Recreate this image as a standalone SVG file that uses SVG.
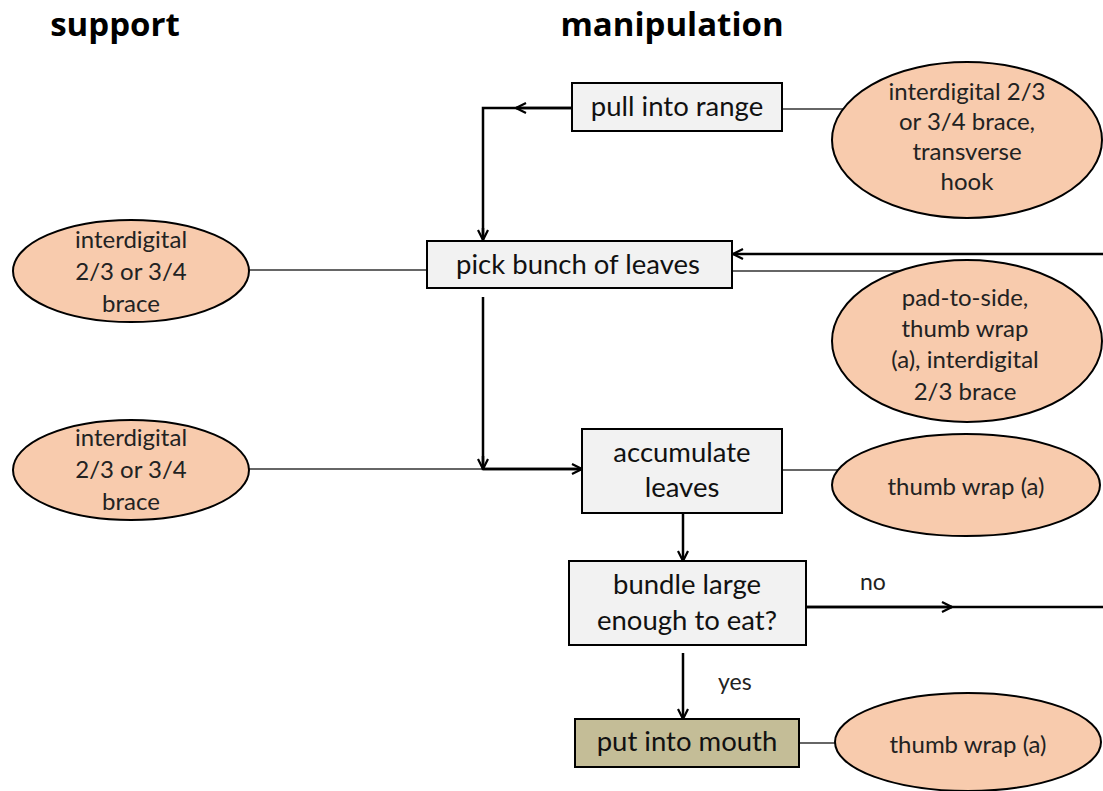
<svg xmlns="http://www.w3.org/2000/svg" width="1103" height="791" viewBox="0 0 1103 791">
<defs>
<marker id="arr" viewBox="0 0 12 12" refX="11" refY="6" markerWidth="12" markerHeight="12" markerUnits="userSpaceOnUse" orient="auto">
<path d="M1,1 L11,6 L1,11" fill="none" stroke="#000" stroke-width="2.2"/>
</marker>
<style>
.box{fill:#F2F2F2;stroke:#000;stroke-width:2}
.mouth{fill:#C4BD97;stroke:#000;stroke-width:2}
.ell{fill:#F8CBAD;stroke:#000;stroke-width:2}
.t{font-family:Lato,"Liberation Sans",sans-serif;font-size:27.5px;fill:#111;text-anchor:middle}
.e{font-family:Lato,"Liberation Sans",sans-serif;font-size:24px;fill:#222;text-anchor:middle}
.h{font-family:"Open Sans","Liberation Sans",sans-serif;font-size:33px;font-weight:bold;fill:#000;text-anchor:middle}
.l{font-family:Lato,"Liberation Sans",sans-serif;font-size:23px;fill:#222}
.thin{stroke:#333;stroke-width:1.6;fill:none}
.flow{stroke:#000;stroke-width:2.5;fill:none}
</style>
</defs>
<rect width="1103" height="791" fill="#fff"/>
<text class="h" x="115" y="36">support</text>
<text class="h" x="672" y="36">manipulation</text>
<g id="connectors">
<line class="thin" x1="782" y1="109" x2="844" y2="109"/>
<line class="thin" x1="249" y1="270" x2="427" y2="270"/>
<line class="thin" x1="732" y1="271" x2="900" y2="271"/>
<line class="thin" x1="249" y1="469" x2="483" y2="469"/>
<line class="thin" x1="782" y1="470" x2="839" y2="470"/>
<line class="thin" x1="799" y1="743" x2="836" y2="743"/>
<polyline class="flow" points="572,108 483,108 483,239"/>
<line class="flow" x1="572" y1="108" x2="516" y2="108" marker-end="url(#arr)"/>
<line class="flow" x1="483" y1="228" x2="483" y2="240" marker-end="url(#arr)"/>
<line class="flow" x1="1103" y1="254" x2="733" y2="254" marker-end="url(#arr)"/>
<polyline class="flow" points="483,297 483,469 582,469"/>
<line class="flow" x1="483" y1="469" x2="582" y2="469" marker-end="url(#arr)"/>
<line class="flow" x1="483" y1="456" x2="483" y2="469" marker-end="url(#arr)"/>
<line class="flow" x1="683" y1="513" x2="683" y2="561" marker-end="url(#arr)"/>
<line class="flow" x1="683" y1="653" x2="683" y2="719" marker-end="url(#arr)"/>
<line class="flow" x1="806" y1="607" x2="1103" y2="607"/>
<line class="flow" x1="806" y1="607" x2="952" y2="607" marker-end="url(#arr)"/>
<text class="l" x="860" y="590">no</text>
<text class="l" x="718" y="690">yes</text>
</g>
<g id="pull">
<rect class="box" x="572" y="83" width="210" height="48"/>
<text class="t" x="677" y="116">pull into range</text>
</g>
<g id="e-pull">
<ellipse class="ell" cx="967" cy="140" rx="135" ry="78"/>
<text class="e" x="967" y="100">interdigital 2/3</text>
<text class="e" x="967" y="130">or 3/4 brace,</text>
<text class="e" x="967" y="160">transverse</text>
<text class="e" x="967" y="190">hook</text>
</g>
<g id="pick">
<rect class="box" x="427" y="241" width="305" height="47"/>
<text class="t" x="578" y="274">pick bunch of leaves</text>
</g>
<g id="e-s1">
<ellipse class="ell" cx="131" cy="271" rx="118" ry="51"/>
<text class="e" x="131" y="248">interdigital</text>
<text class="e" x="131" y="280">2/3 or 3/4</text>
<text class="e" x="131" y="312">brace</text>
</g>
<g id="e-pick">
<ellipse class="ell" cx="967" cy="341" rx="135" ry="81"/>
<text class="e" x="965" y="306">pad-to-side,</text>
<text class="e" x="965" y="337">thumb wrap</text>
<text class="e" x="965" y="368">(a), interdigital</text>
<text class="e" x="965" y="400">2/3 brace</text>
</g>
<g id="e-s2">
<ellipse class="ell" cx="131" cy="470" rx="118" ry="50"/>
<text class="e" x="131" y="446">interdigital</text>
<text class="e" x="131" y="478">2/3 or 3/4</text>
<text class="e" x="131" y="510">brace</text>
</g>
<g id="accumulate">
<rect class="box" x="582" y="429" width="200" height="84"/>
<text class="t" x="682" y="462">accumulate</text>
<text class="t" x="682" y="497">leaves</text>
</g>
<g id="e-acc">
<ellipse class="ell" cx="966" cy="485" rx="134" ry="51"/>
<text class="e" x="966" y="495">thumb wrap (a)</text>
</g>
<g id="bundle">
<rect class="box" x="569" y="561" width="237" height="84"/>
<text class="t" x="687" y="594">bundle large</text>
<text class="t" x="687" y="630">enough to eat?</text>
</g>
<g id="mouth">
<rect class="mouth" x="575" y="719" width="224" height="48"/>
<text class="t" x="687" y="751">put into mouth</text>
</g>
<g id="e-mouth">
<ellipse class="ell" cx="968" cy="742" rx="133" ry="49"/>
<text class="e" x="968" y="753">thumb wrap (a)</text>
</g>
</svg>
